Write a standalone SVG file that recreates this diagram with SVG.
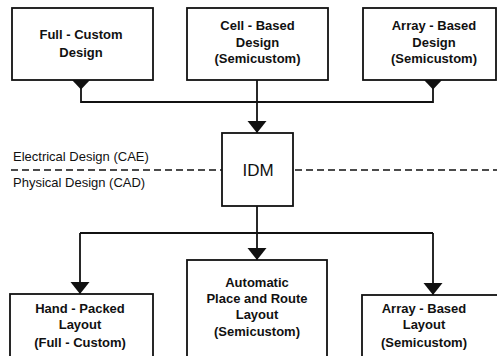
<svg xmlns="http://www.w3.org/2000/svg" width="497" height="356" viewBox="0 0 497 356">
<style>
.box{fill:#fff;stroke:#111;stroke-width:1.8}
.t{font-family:"Liberation Sans",Arial,sans-serif;font-size:13px;font-weight:bold;fill:#111;text-anchor:middle}
.lbl{font-family:"Liberation Sans",Arial,sans-serif;font-size:13px;fill:#111}
.idm{font-family:"Liberation Sans",Arial,sans-serif;font-size:17px;fill:#111;text-anchor:middle}
.ln{fill:none;stroke:#111;stroke-width:1.8}
.dash{fill:none;stroke:#111;stroke-width:1.4;stroke-dasharray:7 4}
.head{fill:#111}
</style>
<defs>
<marker id="arr" markerUnits="userSpaceOnUse" markerWidth="13" markerHeight="20" refX="12" refY="9.5" orient="auto">
<path d="M0,0 L12,9.5 L0,19 Z" fill="#111"/>
</marker>
</defs>
<rect width="497" height="356" fill="#fff"/>
<g id="connectors">
<path class="ln" d="M81,80 V102 H433 V80"/>
<polygon class="head" points="72,80 90,80 81,89.5"/>
<polygon class="head" points="424,80 442,80 433,89.5"/>
<path class="ln" d="M257,80 V133" marker-end="url(#arr)"/>
<path class="ln" d="M257,206 V233"/>
<path class="ln" d="M80,233 H433"/>
<path class="ln" d="M80,233 V294" marker-end="url(#arr)"/>
<path class="ln" d="M257,233 V260" marker-end="url(#arr)"/>
<path class="ln" d="M433,233 V295" marker-end="url(#arr)"/>
<path class="dash" d="M11,170 H222"/>
<path class="dash" d="M295,170 H497"/>
</g>
<g id="full-custom-design">
<rect class="box" x="12" y="8" width="141" height="72"/>
<text class="t" x="81" y="39">Full - Custom</text>
<text class="t" x="81" y="57">Design</text>
</g>
<g id="cell-based-design">
<rect class="box" x="187" y="8" width="141" height="72"/>
<text class="t" x="257.5" y="30">Cell - Based</text>
<text class="t" x="257.5" y="47">Design</text>
<text class="t" x="257.5" y="63">(Semicustom)</text>
</g>
<g id="array-based-design">
<rect class="box" x="363" y="8" width="133" height="72"/>
<text class="t" x="434" y="30">Array - Based</text>
<text class="t" x="434" y="47">Design</text>
<text class="t" x="434" y="63">(Semicustom)</text>
</g>
<g id="idm">
<rect class="box" x="222" y="133" width="71" height="73"/>
<text class="idm" x="258" y="176">IDM</text>
</g>
<g id="domain-labels">
<text class="lbl" x="13" y="161">Electrical Design (CAE)</text>
<text class="lbl" x="13" y="187">Physical Design (CAD)</text>
</g>
<g id="hand-packed-layout">
<rect class="box" x="10" y="294" width="143" height="80"/>
<text class="t" x="80" y="313">Hand - Packed</text>
<text class="t" x="80" y="329">Layout</text>
<text class="t" x="80" y="347">(Full - Custom)</text>
</g>
<g id="place-and-route-layout">
<rect class="box" x="187" y="260" width="140" height="110"/>
<text class="t" x="257" y="287">Automatic</text>
<text class="t" x="257" y="303">Place and Route</text>
<text class="t" x="257" y="319">Layout</text>
<text class="t" x="257" y="336">(Semicustom)</text>
</g>
<g id="array-based-layout">
<rect class="box" x="362" y="295" width="150" height="80"/>
<text class="t" x="424" y="313">Array - Based</text>
<text class="t" x="424" y="329">Layout</text>
<text class="t" x="424" y="347">(Semicustom)</text>
</g>
</svg>
